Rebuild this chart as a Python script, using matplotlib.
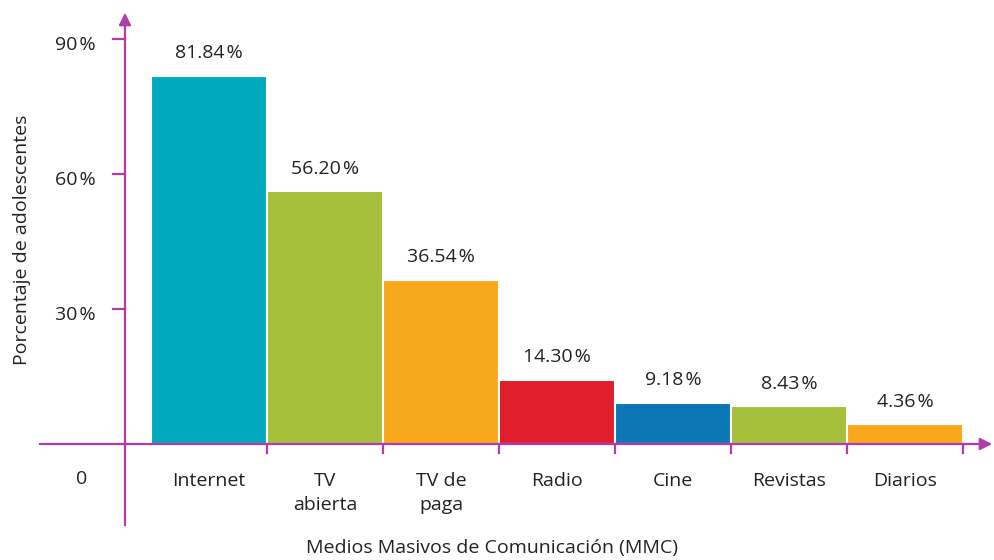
import matplotlib
matplotlib.use("Agg")
import matplotlib.pyplot as plt

categories = ["Internet", "TV\nabierta", "TV de\npaga", "Radio", "Cine", "Revistas", "Diarios"]
values = [81.84, 56.20, 36.54, 14.30, 9.18, 8.43, 4.36]
value_labels = ["81.84\u200a%", "56.20\u200a%", "36.54\u200a%", "14.30\u200a%", "9.18\u200a%", "8.43\u200a%", "4.36\u200a%"]
colors = ["#00A9BE", "#A6C03B", "#F8A81C", "#E01E2C", "#0B77B5", "#A6C03B", "#F8A81C"]
yticks = [30, 60, 90]
ytick_labels = ["30\u200a%", "60\u200a%", "90\u200a%"]

plt.rcParams['font.family'] = ['Open Sans', 'DejaVu Sans']
axis_color = "#B13BA9"
text_color = "#222222"
fs = 14

fig = plt.figure(figsize=(9.95, 5.6), dpi=100)
ax = fig.add_axes([0, 0, 1, 1])
ax.set_axis_off()
# pixel mapping: x_data = (px-151)/116 ; y_data = (444-py)/4.5
ax.set_xlim(-151/116, (995-151)/116)
ax.set_ylim((444-560)/4.5, 444/4.5)

x = list(range(len(values)))
ax.bar(x, values, width=1.0, align='edge', color=colors, edgecolor='white', linewidth=1.5, zorder=2)

for i, (v, lab) in enumerate(zip(values, value_labels)):
    ax.text(i + 0.5, v + 3.0, lab, ha='center', va='bottom', fontsize=fs, color=text_color)
    ax.text(i + 0.5, -6.2, categories[i], ha='center', va='top', fontsize=fs, color=text_color, linespacing=1.45)

y_axis_x = (125-151)/116
# x axis
ax.annotate("", xy=((995-151)/116, 0), xytext=((37-151)/116, 0),
            arrowprops=dict(arrowstyle="-|>", color=axis_color, lw=1.6, mutation_scale=18), zorder=3)
# y axis
ax.annotate("", xy=(y_axis_x, (444-10)/4.5), xytext=(y_axis_x, (444-528)/4.5),
            arrowprops=dict(arrowstyle="-|>", color=axis_color, lw=1.6, mutation_scale=18), zorder=3)

for t, tl in zip(yticks, ytick_labels):
    ax.plot([(113-151)/116, y_axis_x], [t, t], color=axis_color, lw=1.6, zorder=3)
    ax.text((75-151)/116, t - 1.3, tl, ha='center', va='center', fontsize=fs, color=text_color)
ax.text((82-151)/116, -7.8, "0", ha='center', va='center', fontsize=fs, color=text_color)

for i in range(1, len(values) + 1):
    ax.plot([i, i], [0, -2.0], color=axis_color, lw=1.6, zorder=3)

ax.text((22-151)/116, (444-240)/4.5, "Porcentaje de adolescentes", rotation=90,
        ha='center', va='center', fontsize=fs, color=text_color)
ax.text((492-151)/116, (444-548)/4.5, "Medios Masivos de Comunicación (MMC)",
        ha='center', va='center', fontsize=fs, color=text_color)

fig.savefig("out.png", dpi=100)
